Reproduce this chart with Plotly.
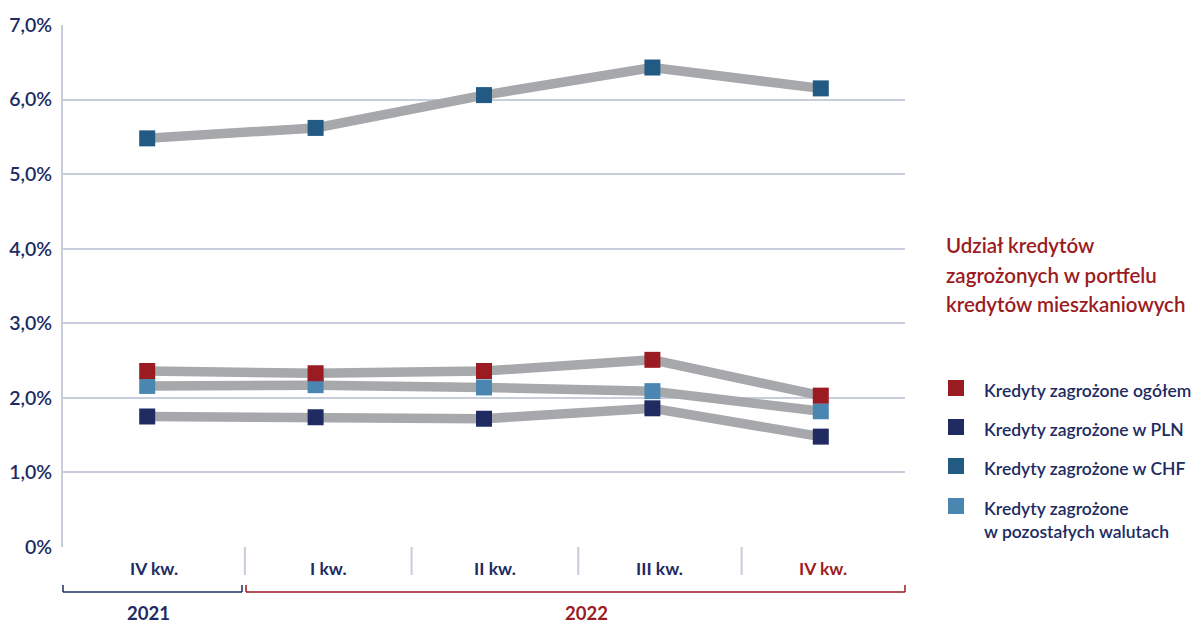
import plotly.graph_objects as go

# Quarters shown on the x axis
quarters = ["IV kw.", "I kw.", "II kw.", "III kw.", "IV kw."]
years = ["2021", "2022"]

# Share of non-performing loans in the housing loan portfolio (%)
ogolem = [2.36, 2.33, 2.36, 2.51, 2.03]
pln = [1.75, 1.74, 1.72, 1.86, 1.48]
chf = [5.48, 5.62, 6.06, 6.43, 6.15]
pozostale = [2.16, 2.17, 2.14, 2.09, 1.82]

series_names = [
    "Kredyty zagrożone ogółem",
    "Kredyty zagrożone w PLN",
    "Kredyty zagrożone w CHF",
    "Kredyty zagrożone<br>w pozostałych walutach",
]
title_lines = ["Udział kredytów", "zagrożonych w portfelu", "kredytów mieszkaniowych"]

y_ticks = [0, 1, 2, 3, 4, 5, 6, 7]
y_tick_labels = ["0%", "1,0%", "2,0%", "3,0%", "4,0%", "5,0%", "6,0%", "7,0%"]

RED = "#9b1b22"
NAVY = "#202b62"
CHF_BLUE = "#235a83"
LIGHT_BLUE = "#4b86b0"
GRAY = "#a7a8ab"
GRID = "#c8cddc"
FONT = "Lato"

W, H = 1193, 623
L, R, T, B = 63, 905, 25, 547


def px_x(px):
    return (px - L) / (R - L)


def px_y(py):
    return (B - py) / (B - T)


x = list(range(len(quarters)))
series = [ogolem, pln, chf, pozostale]
colors = [RED, NAVY, CHF_BLUE, LIGHT_BLUE]

fig = go.Figure()

# grey connecting lines underneath
for vals in [chf, pln, pozostale, ogolem]:
    fig.add_trace(go.Scatter(
        x=x, y=vals, mode="lines",
        line=dict(color=GRAY, width=9.5),
        hoverinfo="skip", showlegend=False,
    ))

# square markers on top (total drawn last)
for vals, col, name in [(chf, CHF_BLUE, series_names[2]),
                        (pln, NAVY, series_names[1]),
                        (pozostale, LIGHT_BLUE, series_names[3]),
                        (ogolem, RED, series_names[0])]:
    fig.add_trace(go.Scatter(
        x=x, y=vals, mode="markers", name=name,
        marker=dict(symbol="square", size=16, color=col, line=dict(width=0)),
        showlegend=False,
    ))

shapes = []
annotations = []

# category separators below the axis
bounds = [-0.5, 0.58, 1.57, 2.56, 3.53, 4.5]
for b in bounds[1:-1]:
    shapes.append(dict(type="line", xref="x", yref="paper",
                       x0=b, x1=b, y0=0, y1=px_y(575),
                       line=dict(color=GRID, width=2)))

# quarter labels centred in their cells
for i, q in enumerate(quarters):
    cx = (bounds[i] + bounds[i + 1]) / 2
    annotations.append(dict(
        x=cx, xref="x", y=px_y(568), yref="paper", text=q, showarrow=False,
        xanchor="center", yanchor="middle",
        font=dict(family=FONT, size=17.5, weight=700,
                  color=RED if i == len(quarters) - 1 else NAVY)))

# year brackets
yb, yt = px_y(592), px_y(585)
for (x0, x1, col) in [(63, 242, NAVY), (246, 905, RED)]:
    shapes.append(dict(type="line", xref="paper", yref="paper",
                       x0=px_x(x0), x1=px_x(x1), y0=yb, y1=yb,
                       line=dict(color=col, width=1.5)))
    for xx in (x0, x1):
        shapes.append(dict(type="line", xref="paper", yref="paper",
                           x0=px_x(xx), x1=px_x(xx), y0=yb, y1=yt,
                           line=dict(color=col, width=1.5)))

annotations.append(dict(x=px_x(148), xref="paper", y=px_y(613), yref="paper",
                        text=years[0], showarrow=False, xanchor="center", yanchor="middle",
                        font=dict(family=FONT, size=18.5, weight=700, color=NAVY)))
annotations.append(dict(x=px_x(586), xref="paper", y=px_y(613), yref="paper",
                        text=years[1], showarrow=False, xanchor="center", yanchor="middle",
                        font=dict(family=FONT, size=18.5, weight=700, color=RED)))

# title block on the right
for k, line in enumerate(title_lines):
    annotations.append(dict(x=px_x(944), xref="paper", y=px_y(245 + 29.5 * k), yref="paper",
                            text=line, showarrow=False, xanchor="left", yanchor="middle",
                            font=dict(family=FONT, size=20.5, weight=600, color=RED)))

# legend
legend_rows = [388, 427, 466, 506]
for name, col, ry in zip(series_names, colors, legend_rows):
    shapes.append(dict(type="rect", xref="paper", yref="paper",
                       x0=px_x(948), x1=px_x(964), y0=px_y(ry - 8), y1=px_y(ry + 8),
                       fillcolor=col, line=dict(width=0)))
    annotations.append(dict(x=px_x(982), xref="paper",
                            y=px_y(ry - 10.5), yref="paper",
                            text=name, showarrow=False, xanchor="left", yanchor="top",
                            align="left",
                            font=dict(family=FONT, size=17.5, weight=600, color=NAVY)))

fig.update_layout(
    width=W, height=H,
    margin=dict(l=L, r=W - R, t=T, b=H - B, pad=0),
    paper_bgcolor="white", plot_bgcolor="white",
    showlegend=False,
    shapes=shapes, annotations=annotations,
    xaxis=dict(range=[-0.5, 4.5], showgrid=False, showticklabels=False,
               zeroline=False, showline=False, fixedrange=True, automargin=False),
    yaxis=dict(range=[0, 7], tickvals=y_ticks, ticktext=y_tick_labels,
               showgrid=True, gridcolor=GRID, gridwidth=2,
               zeroline=False, showline=True, linecolor=GRID, linewidth=2,
               ticks="", ticklabelstandoff=5, automargin=False,
               tickfont=dict(family=FONT, size=19.5, weight=600, color=NAVY)),
)

fig.write_html("out.html")
